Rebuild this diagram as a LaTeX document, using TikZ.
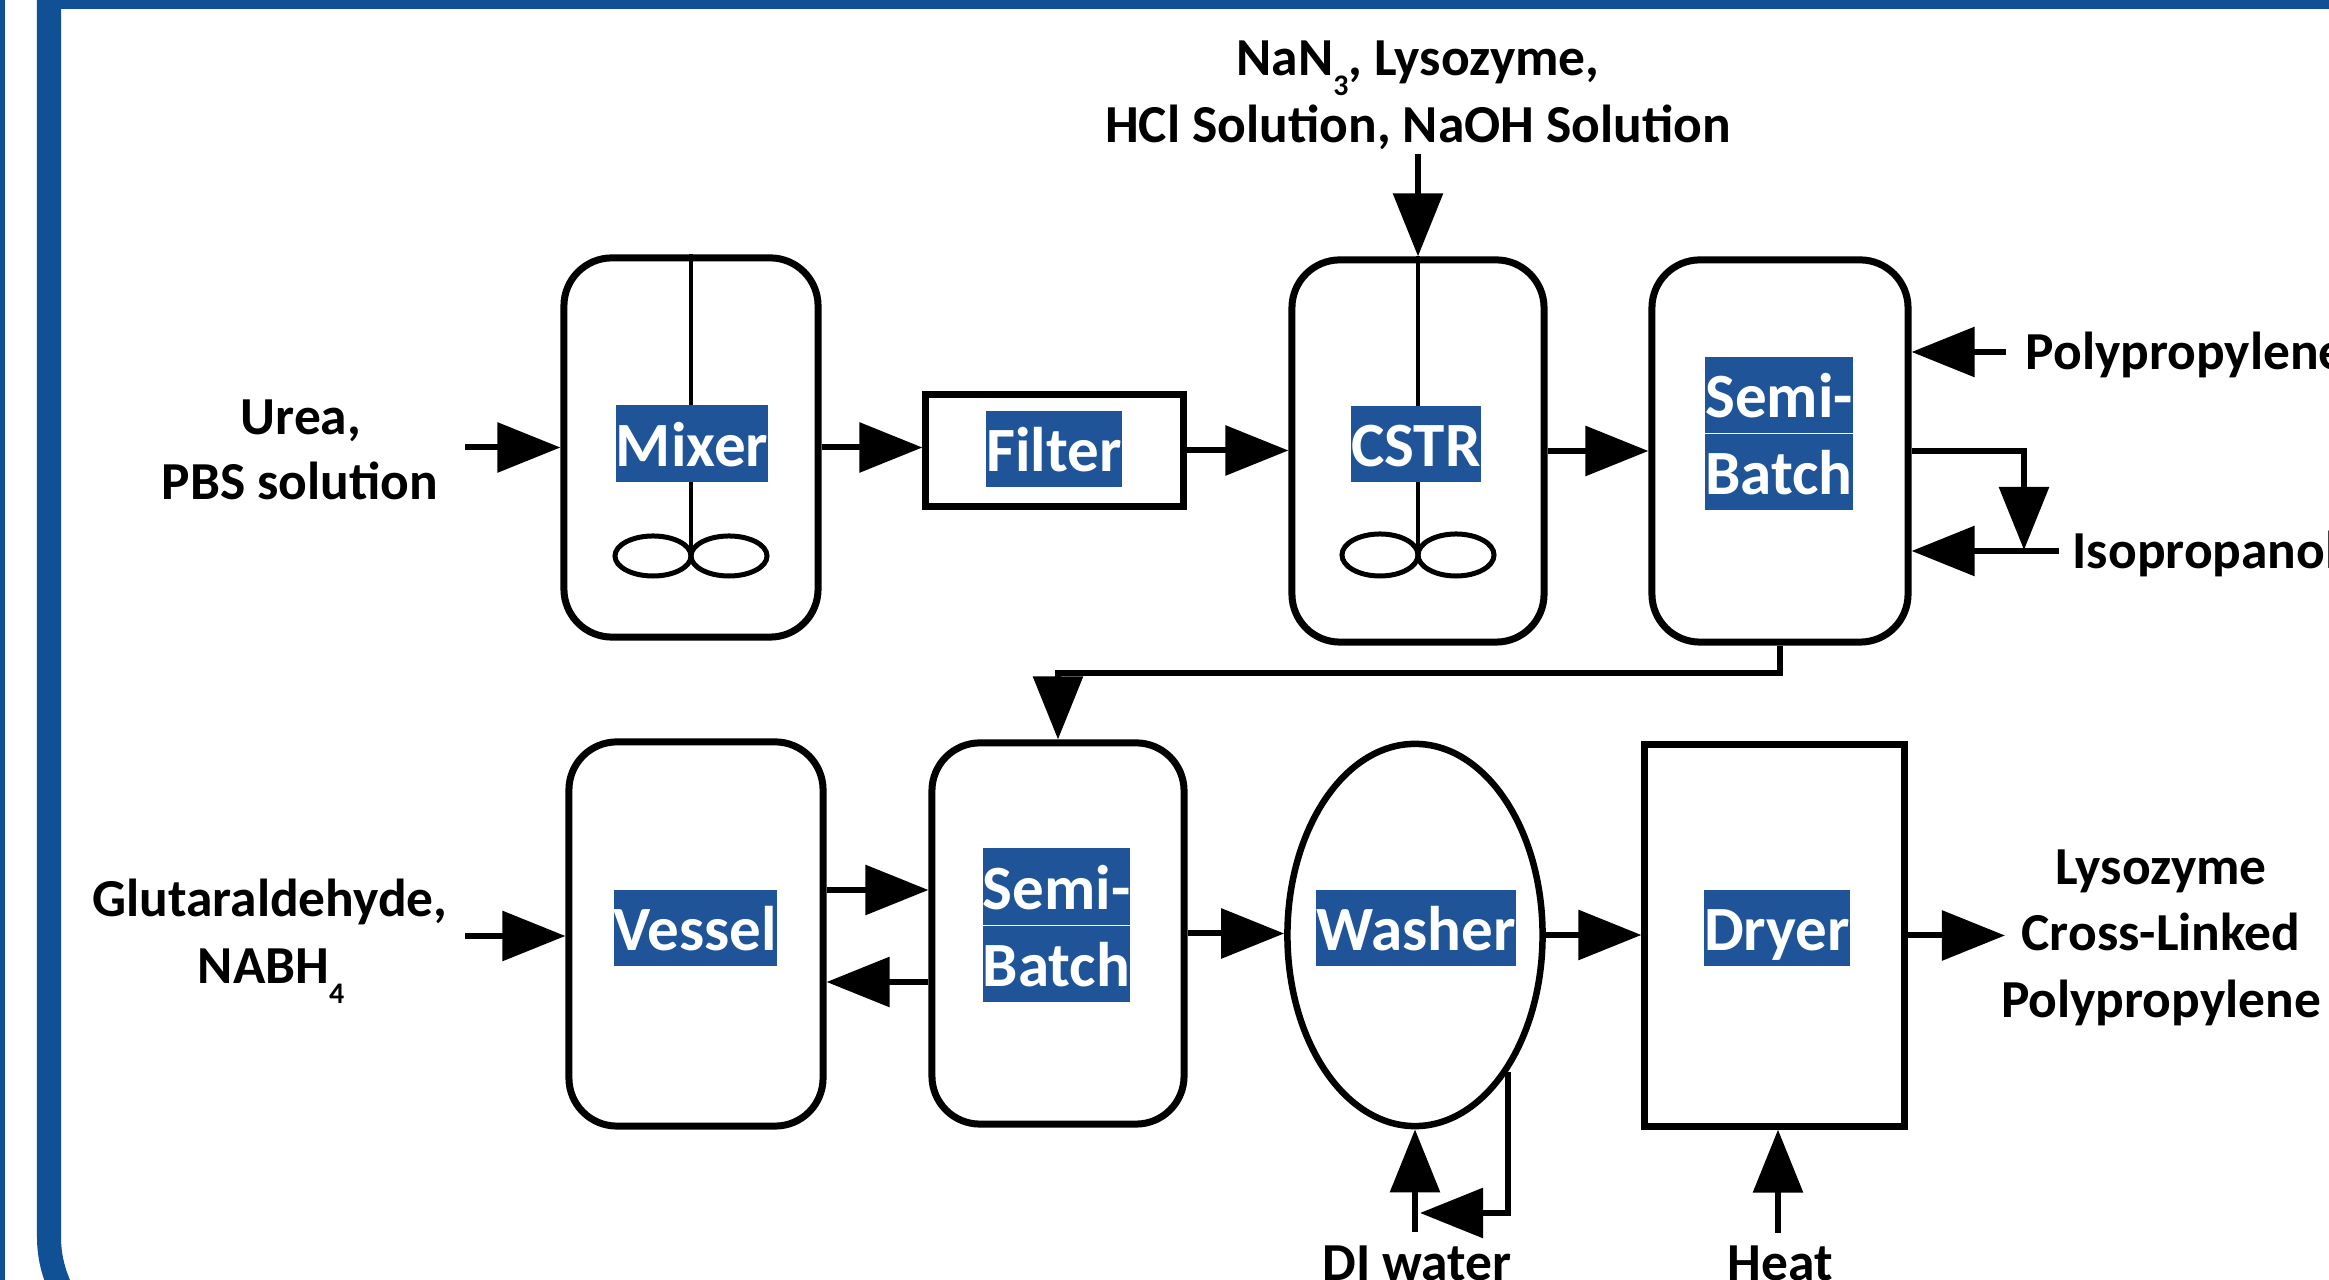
\documentclass[tikz,border=0pt]{standalone}
\usepackage{fontspec}
\setmainfont{Carlito}
\usetikzlibrary{arrows.meta,shapes.geometric,calc}
\definecolor{frameblue}{RGB}{16,80,148}
\definecolor{hlblue}{RGB}{31,85,152}
\newcommand{\mysub}[1]{\raisebox{-0.2cm}{\fontsize{8.5pt}{8.5pt}\selectfont #1}}
\begin{document}
\begin{tikzpicture}[x=0.01cm, y=-0.01cm,
  unit/.style={draw, line width=0.07cm, fill=white, rounded corners=0.48cm, inner sep=0pt},
  sqbox/.style={draw, line width=0.07cm, fill=white, inner sep=0pt},
  oval/.style={ellipse, draw, line width=0.065cm, fill=white, inner sep=0pt},
  hl/.style={fill=hlblue, text=white, inner sep=0pt, text height=0.611cm, text depth=0.158cm, font=\bfseries\fontsize{17.93pt}{21.5pt}\selectfont},
  lbl/.style={inner sep=0pt, anchor=base, font=\bfseries\fontsize{15.2pt}{18.8pt}\selectfont},
  arr/.style={line width=0.06cm, -{Triangle[length=0.63cm,width=0.49cm]}},
  agit/.style={line width=0.045cm},
  imp/.style={line width=0.05cm},
]
\useasboundingbox (0,0) rectangle (2329,1280);
\fill[white] (0,0) rectangle (2329,1280);
% frame
\fill[frameblue] (0,0) rectangle (5,1280);
\fill[frameblue] (37,0) rectangle (2329,9);
\draw[frameblue, line width=0.24cm, rounded corners=1.19cm] (49,-20) -- (49,1356) -- (2400,1356);

% units
\node[unit, minimum width=2.54cm, minimum height=3.79cm] (mixer) at (691,447.5) {};
\node[sqbox, minimum width=2.57cm, minimum height=1.11cm] (filter) at (1054.5,450.5) {};
\node[unit, minimum width=2.52cm, minimum height=3.82cm] (cstr) at (1418,451) {};
\node[unit, minimum width=2.56cm, minimum height=3.82cm] (sbA) at (1780,451) {};
\node[unit, minimum width=2.54cm, minimum height=3.84cm] (vessel) at (696,934) {};
\node[unit, minimum width=2.52cm, minimum height=3.81cm] (sbB) at (1058,933.5) {};
\node[oval, minimum width=2.55cm, minimum height=3.82cm] (washer) at (1415,935) {};
\node[sqbox, minimum width=2.59cm, minimum height=3.81cm] (dryer) at (1774.5,935.5) {};

% agitators
\coordinate (mixerimp) at (691,556);
\draw[agit] (mixer.north) -- (mixerimp);
\draw[imp] ($(mixerimp)+(-38,0)$) ellipse [x radius=0.38cm, y radius=0.2cm];
\draw[imp] ($(mixerimp)+(38,0)$) ellipse [x radius=0.38cm, y radius=0.2cm];
\coordinate (cstrimp) at (1418,555);
\draw[agit] (cstr.north) -- (cstrimp);
\draw[imp] ($(cstrimp)+(-38,0)$) ellipse [x radius=0.38cm, y radius=0.21cm];
\draw[imp] ($(cstrimp)+(38,0)$) ellipse [x radius=0.38cm, y radius=0.21cm];

% unit labels
\node[hl] (mixerlbl) at (692,443.5) {Mixer};
\node[hl] (filterlbl) at (1054,449) {Filter};
\node[hl] (cstrlbl) at (1416,444) {CSTR};
\node[hl] (sbAlblA) at (1779,395) {Semi-};
\node[hl] (sbAlblB) at (1779,472) {Batch};
\node[hl] (vessellbl) at (695.5,928) {Vessel};
\node[hl] (sbBlblA) at (1056.5,886.5) {Semi-};
\node[hl] (sbBlblB) at (1056.5,964) {Batch};
\node[hl] (washerlbl) at (1416,928) {Washer};
\node[hl] (dryerlbl) at (1777,928) {Dryer};

% external labels
\node[lbl] (topA) at (1418,76) {NaN\mysub{3}, Lysozyme,};
\node[lbl] (topB) at (1418,143) {HCl Solution, NaOH Solution};
\node[lbl] (ureaA) at (301,435) {Urea,};
\node[lbl] (ureaB) at (300,500) {PBS solution};
\node[lbl] (glutA) at (270,917) {Glutaraldehyde,};
\node[lbl] (glutB) at (271,984) {NABH\mysub{4}};
\node[lbl, anchor=base west] (pplbl) at (2025,370) {Polypropylene};
\node[lbl, anchor=base west] (iplbl) at (2072,569) {Isopropanol};
\node[lbl] (prodA) at (2161,885) {Lysozyme};
\node[lbl] (prodB) at (2161,951) {Cross-Linked};
\node[lbl] (prodC) at (2161,1018) {Polypropylene};
\node[lbl] (dilbl) at (1417,1281) {DI water};
\node[lbl] (heatlbl) at (1780,1281) {Heat};

% connectors, top row
\coordinate (ureain) at (465,447.5);
\draw[arr] (ureain) -- (mixer.west);
\draw[arr] (mixer.east) -- (mixer.east -| filter.west);
\draw[arr] (filter.east) -- (filter.east -| cstr.west);
\coordinate (cstrin) at (1418,154);
\draw[arr] (cstrin) -- (cstr.north);
\draw[arr] (cstr.east) -- (sbA.west);
\coordinate (ppin) at (2006,352);
\draw[arr] (ppin) -- (ppin -| sbA.east);
\coordinate (ipin) at (2059,551);
\draw[arr] (ipin) -- (ipin -| sbA.east);
\coordinate (loopend) at (2024,550);
\draw[arr] (sbA.east) -| (loopend);
\draw[arr] (sbA.south) -- ++(0,27) -| (sbB.north);

% connectors, bottom row
\coordinate (glutin) at (465,936);
\draw[arr] (glutin) -- (glutin -| vessel.west);
\draw[arr] ($(vessel.east)+(0,-44)$) -- ($(sbB.west)+(0,-43.5)$);
\draw[arr] ($(sbB.west)+(0,48.5)$) -- ($(vessel.east)+(0,48)$);
\draw[arr] (sbB.east) -- (sbB.east -| washer.west);
\draw[arr] (washer.east) -- (washer.east -| dryer.west);
\coordinate (prodtip) at (2005,935.5);
\draw[arr] (dryer.east) -- (prodtip);
\coordinate (diin) at (1415,1232);
\draw[arr] (diin) -- (washer.south);
\coordinate (recyc) at (1420,1213);
\draw[arr] (washer.-56) |- (recyc);
\coordinate (heatin) at (1778,1233);
\draw[arr] (heatin) -- (heatin |- dryer.south);
\end{tikzpicture}
\end{document}
